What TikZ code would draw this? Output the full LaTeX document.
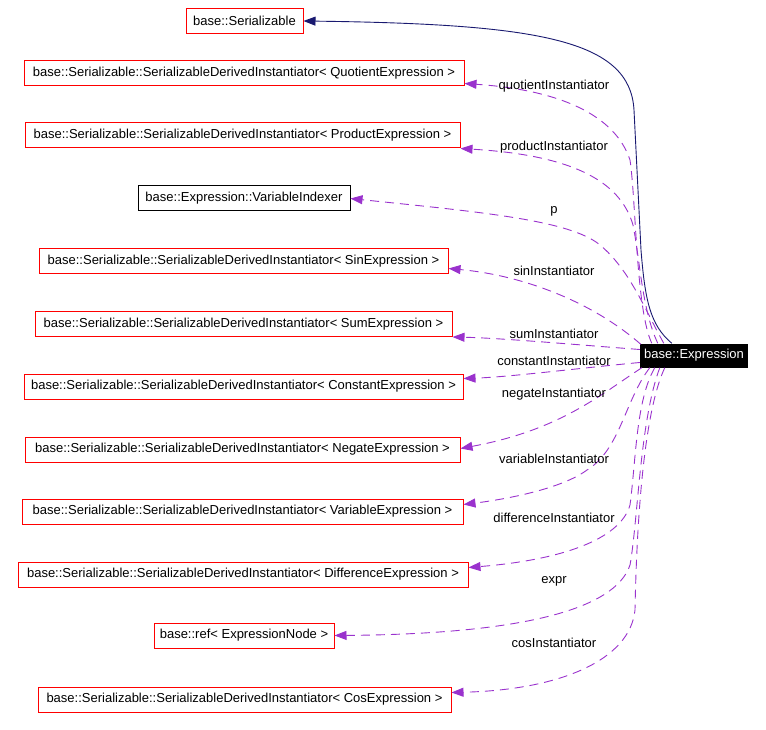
\documentclass[tikz,border=0pt]{standalone}
\usepackage{fontspec}
\setmainfont{Liberation Sans}
\usetikzlibrary{arrows.meta,calc}
\definecolor{edgepurple}{HTML}{9A32CD}
\definecolor{edgenavy}{HTML}{191970}
\begin{document}
\begin{tikzpicture}[x=1pt,y=-1pt,
  font=\fontsize{13}{15}\selectfont,
  cls/.style={draw=red, line width=1pt, inner sep=0pt, minimum height=25pt},
  plain/.style={draw=black, line width=1pt, inner sep=0pt, minimum height=25pt},
  cur/.style={fill=black, text=white, inner sep=0pt, minimum height=24pt, minimum width=108pt},
  use/.style={draw=edgepurple, dash pattern=on 9pt off 6pt, line width=0.9pt,
    -{Triangle[length=12pt,width=9pt]}},
  inherit/.style={draw=edgenavy, line width=0.9pt, -{Triangle[length=12pt,width=9pt]}},
  lbl/.style={inner sep=0pt, text=black}]
\useasboundingbox (0,0) rectangle (766,730);

\node[cls, minimum width=117pt] (ser) at (244.5,21) {base::Serializable};
\node[cls, minimum width=440pt] (quot) at (244,73.5) {base::Serializable::SerializableDerivedInstantiator< QuotientExpression >};
\node[cls, minimum width=435pt] (prod) at (242.5,135.5) {base::Serializable::SerializableDerivedInstantiator< ProductExpression >};
\node[plain, minimum width=212pt] (vi) at (244,198.5) {base::Expression::VariableIndexer};
\node[cls, minimum width=409pt] (sin) at (243.5,261.5) {base::Serializable::SerializableDerivedInstantiator< SinExpression >};
\node[cls, minimum width=417pt] (sum) at (243.5,324) {base::Serializable::SerializableDerivedInstantiator< SumExpression >};
\node[cls, minimum width=439pt] (const) at (243.5,386.5) {base::Serializable::SerializableDerivedInstantiator< ConstantExpression >};
\node[cls, minimum width=435pt] (neg) at (242.5,449.5) {base::Serializable::SerializableDerivedInstantiator< NegateExpression >};
\node[cls, minimum width=441pt] (var) at (242.5,511.5) {base::Serializable::SerializableDerivedInstantiator< VariableExpression >};
\node[cls, minimum width=450pt] (diff) at (243,574.5) {base::Serializable::SerializableDerivedInstantiator< DifferenceExpression >};
\node[cls, minimum width=180pt] (ref) at (244,635.5) {base::ref< ExpressionNode >};
\node[cls, minimum width=413pt] (cos) at (244.5,699.5) {base::Serializable::SerializableDerivedInstantiator< CosExpression >};
\node[cur] (expr) at (694,355.5) {base::Expression};

% inheritance
\draw[inherit] ($(expr.north west)+(32,0)$) .. controls (650,325) and (645,300) .. (641,250) -- (634,110) .. controls (630,40) and (540,24) .. (ser.east);

% usage edges
\draw[use] ($(expr.north west)+(12,0)$) .. controls (636,310) and (636,200) .. (630,160) .. controls (615,115) and (560,90) .. ($(quot.south east)+(0,-3)$);
\draw[use] ($(expr.north west)+(18,0)$) .. controls (642,310) and (640,260) .. (633,225) .. controls (620,180) and (570,155) .. (prod.south east);
\draw[use] ($(expr.north west)+(24,0)$) .. controls (645,310) and (630,270) .. (600,245) .. controls (570,220) and (480,212) .. (vi.east);
\draw[use] ($(expr.north west)+(1,1)$) .. controls (590,300) and (520,275) .. ($(sin.east)+(0,7)$);
\draw[use] ($(expr.west)+(0,-6)$) .. controls (580,345) and (500,338) .. (sum.south east);
\draw[use] ($(expr.west)+(0,7)$) .. controls (580,368) and (510,377) .. ($(const.east)+(0,-8)$);
\draw[use] ($(expr.south west)+(2,0)$) .. controls (600,395) and (560,430) .. ($(neg.east)+(0,-1)$);
\draw[use] ($(expr.south west)+(10,0)$) .. controls (625,400) and (620,450) .. (587,470) .. controls (560,490) and (500,500) .. ($(var.east)+(0,-7)$);
\draw[use] ($(expr.south west)+(15,0)$) .. controls (636,400) and (636,460) .. (630,505) .. controls (620,540) and (560,560) .. ($(diff.east)+(0,-7)$);
\draw[use] ($(expr.south west)+(20,0)$) .. controls (640,420) and (638,520) .. (630,565) .. controls (615,610) and (520,634) .. (ref.east);
\draw[use] ($(expr.south west)+(25,0)$) .. controls (640,420) and (636,560) .. (635,610) .. controls (630,660) and (560,690) .. ($(cos.east)+(0,-7)$);

% labels
\node[lbl] (lq) at (554,86) {quotientInstantiator};
\node[lbl] (lp) at (554,147) {productInstantiator};
\node[lbl] (lv) at (554,211) {p};
\node[lbl] (ls) at (554,271) {sinInstantiator};
\node[lbl] (lsu) at (554,334) {sumInstantiator};
\node[lbl] (lc) at (554,361) {constantInstantiator};
\node[lbl] (ln) at (554,394) {negateInstantiator};
\node[lbl] (lva) at (554,459) {variableInstantiator};
\node[lbl] (ld) at (554,518) {differenceInstantiator};
\node[lbl] (le) at (554,581) {expr};
\node[lbl] (lco) at (554,643) {cosInstantiator};
\end{tikzpicture}
\end{document}
